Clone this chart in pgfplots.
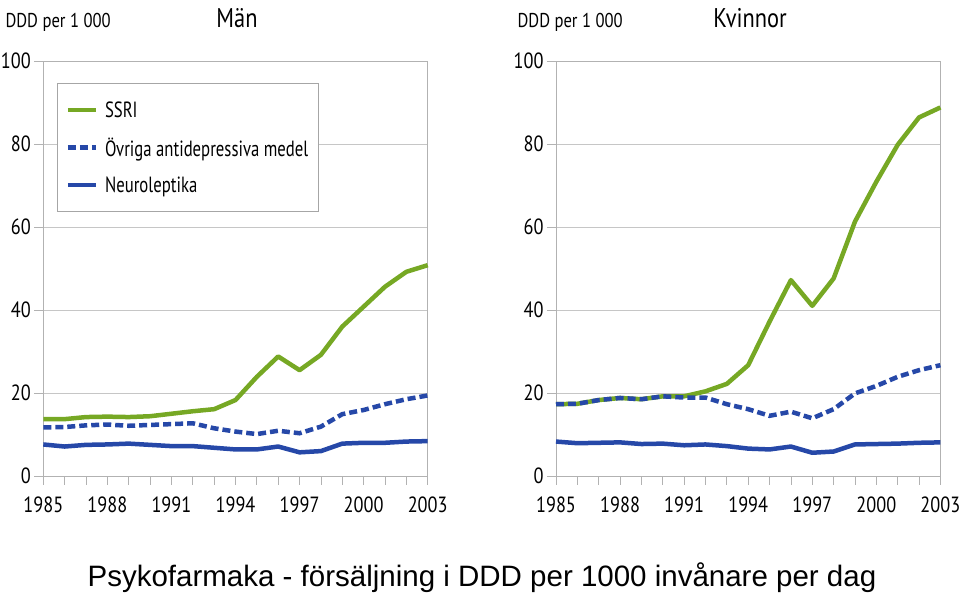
\documentclass[border=0pt]{standalone}
\usepackage{pgfplots}
\pgfplotsset{compat=1.18}
\usepackage{fontspec}
\setmainfont{PT Sans}
\newfontfamily\capfont{Liberation Sans}
\definecolor{ssri}{RGB}{118,168,36}
\definecolor{ovr}{RGB}{38,72,168}
\definecolor{neu}{RGB}{38,72,168}
\newcommand{\cond}[1]{\scalebox{0.83}[1]{#1}}
\newcommand{\lcond}[1]{\hspace{5pt}\scalebox{0.76}[1]{#1}}
\pgfplotstableread{
year ssriM ovrM neuM ssriK ovrK neuK
1985 13.7 11.7 7.6 17.3 17.3 8.3
1986 13.7 11.8 7.1 17.4 17.4 7.9
1987 14.2 12.2 7.5 18.3 18.3 8.0
1988 14.3 12.4 7.6 18.8 18.8 8.1
1989 14.2 12.1 7.8 18.5 18.5 7.7
1990 14.4 12.3 7.5 19.2 19.2 7.8
1991 15.0 12.5 7.2 19.2 18.9 7.4
1992 15.6 12.7 7.2 20.4 18.9 7.6
1993 16.1 11.5 6.8 22.2 17.3 7.2
1994 18.3 10.7 6.4 26.7 16.1 6.6
1995 23.9 10.1 6.4 37.2 14.5 6.4
1996 28.8 10.9 7.1 47.2 15.5 7.1
1997 25.5 10.3 5.7 41.0 13.9 5.6
1998 29.2 11.9 6.0 47.6 16.1 5.9
1999 36.0 14.9 7.8 61.3 19.9 7.6
2000 40.8 15.9 8.0 70.9 21.7 7.7
2001 45.6 17.3 8.0 79.8 23.9 7.8
2002 49.2 18.5 8.3 86.4 25.5 8.0
2003 50.8 19.4 8.4 88.8 26.7 8.1
}\data
\pgfplotsset{
  myaxis/.style={
    scale only axis, width=384.4pt, height=415pt, anchor=south west,
    xmin=1985, xmax=2003, ymin=0, ymax=100,
    axis line style={gray!60, line width=0.8pt},
    ymajorgrids, grid style={gray!45, line width=0.8pt},
    tick pos=left, tick align=outside,
    major tick length=9pt, minor tick length=9pt,
    tick style={gray!60, line width=0.8pt},
    xtick={1985,1988,...,2003},
    minor xtick={1986,1987,1989,1990,1992,1993,1995,1996,1998,1999,2001,2002},
    xticklabels={\cond{1985},\cond{1988},\cond{1991},\cond{1994},\cond{1997},\cond{2000},\cond{2003}},
    ytick={0,20,...,100},
    yticklabels={\cond{0},\cond{20},\cond{40},\cond{60},\cond{80},\cond{100}},
    ticklabel style={font=\fontsize{22}{22}\selectfont, text=black},
    xticklabel style={yshift=-8pt},
    clip=false,
  },
  ssriL/.style={ssri, line width=4.5pt, line join=round},
  ovrL/.style={ovr, line width=4.5pt, dash pattern=on 8pt off 4pt},
  neuL/.style={neu, line width=4.5pt, line join=round},
}
\begin{document}
\begin{tikzpicture}[x=1pt,y=1pt]
\path[use as bounding box] (0,0) rectangle (959,596);
\begin{axis}[myaxis, at={(43.3pt,120pt)},
  legend style={at={(0.036,0.947)}, anchor=north west, draw=gray!70, line width=0.8pt,
    fill=white, inner xsep=8pt, inner ysep=16pt, row sep=15pt,
    font=\fontsize{22}{22}\selectfont},
  legend cell align=left,
  legend image code/.code={\draw[#1] (0pt,0pt) -- (28pt,0pt);},
]
\addplot[ssriL] table[x=year,y=ssriM]{\data};
\addlegendentry{\lcond{SSRI}}
\addplot[ovrL] table[x=year,y=ovrM]{\data};
\addlegendentry{\lcond{Övriga antidepressiva medel}}
\addplot[neuL] table[x=year,y=neuM]{\data};
\addlegendentry{\lcond{Neuroleptika}}
\end{axis}
\begin{axis}[myaxis, at={(556pt,120pt)}]
\addplot[ssriL] table[x=year,y=ssriK]{\data};
\addplot[ovrL] table[x=year,y=ovrK]{\data};
\addplot[neuL] table[x=year,y=neuK]{\data};
\end{axis}
\node[anchor=west, font=\fontsize{20}{20}\selectfont] at (2,574) {\cond{DDD per 1 000}};
\node[anchor=west, font=\fontsize{20}{20}\selectfont] at (514,574) {\cond{DDD per 1 000}};
\node[font=\fontsize{27}{27}\selectfont] at (237,578) {\cond{Män}};
\node[font=\fontsize{27}{27}\selectfont] at (750,578) {\cond{Kvinnor}};
\node[font=\capfont\fontsize{29.5}{29.5}\selectfont] at (482,18) {Psykofarmaka - försäljning i DDD per 1000 invånare per dag};
\end{tikzpicture}
\end{document}
